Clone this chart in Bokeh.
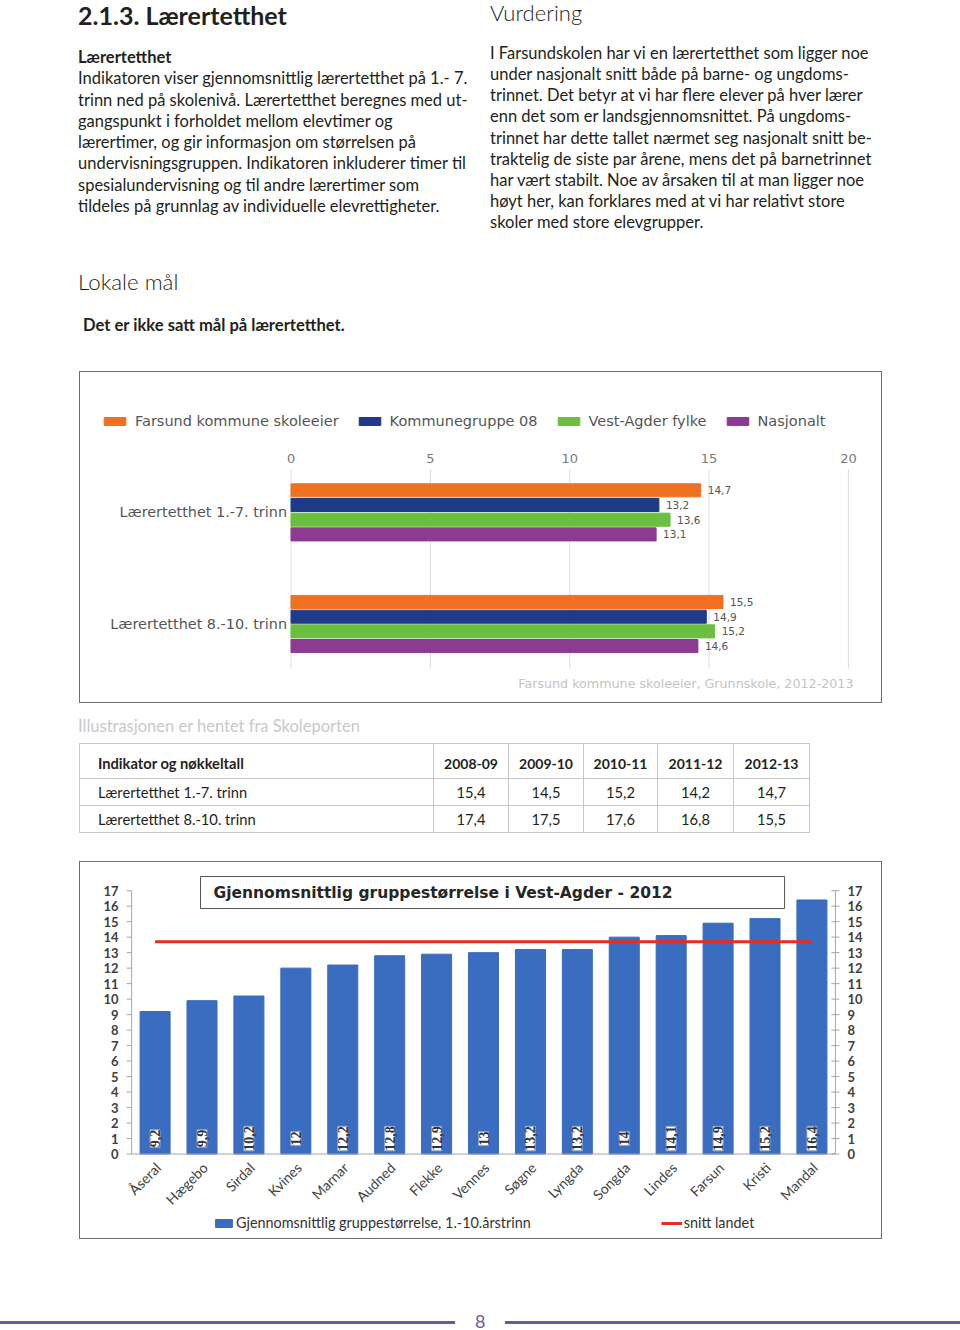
import math
from bokeh.plotting import figure
from bokeh.models import (Range1d, Legend, LegendItem, Label, LabelSet, ColumnDataSource, Div)
from bokeh.core.properties import value
from bokeh.layouts import column
from bokeh.embed import file_html
from bokeh.resources import INLINE

# ---------------- data: chart 1 (Skoleporten) ----------------
categories1 = ["Lærertetthet 1.-7. trinn", "Lærertetthet 8.-10. trinn"]
series1 = ["Farsund kommune skoleeier", "Kommunegruppe 08", "Vest-Agder fylke", "Nasjonalt"]
farsund = [14.7, 15.5]
kommunegruppe_08 = [13.2, 14.9]
vest_agder = [13.6, 15.2]
nasjonalt = [13.1, 14.6]
ticks1 = [0, 5, 10, 15, 20]
source_note1 = "Farsund kommune skoleeier, Grunnskole, 2012-2013"

# ---------------- data: table ----------------
table_header = "Indikator og nøkkeltall"
table_years = ["2008-09", "2009-10", "2010-11", "2011-12", "2012-13"]
table_rows = ["Lærertetthet 1.-7. trinn", "Lærertetthet 8.-10. trinn"]
trinn_1_7 = ["15,4", "14,5", "15,2", "14,2", "14,7"]
trinn_8_10 = ["17,4", "17,5", "17,6", "16,8", "15,5"]

# ---------------- data: chart 2 ----------------
chart2_title = "Gjennomsnittlig gruppestørrelse i Vest-Agder - 2012"
kommuner = ["Åseral", "Hægebo", "Sirdal", "Kvines", "Marnar", "Audned", "Flekke",
            "Vennes", "Søgne", "Lyngda", "Songda", "Lindes", "Farsun", "Kristi", "Mandal"]
gruppestorrelse = [9.2, 9.9, 10.2, 12, 12.2, 12.8, 12.9, 13, 13.2, 13.2, 14, 14.1, 14.9, 15.2, 16.4]
snitt_landet = 13.7
ticks2 = list(range(0, 18))
legend2 = ["Gjennomsnittlig gruppestørrelse, 1.-10.årstrinn", "snitt landet"]


def fmt(v):
    return f"{v:g}".replace(".", ",")


TXT = "#231f20"
BODY_FONT = "Lato"

# ---------------- top text block ----------------
left_lines = [
    "Indikatoren viser gjennomsnittlig lærertetthet på 1.- 7.",
    "trinn ned på skolenivå. Lærertetthet beregnes med ut-",
    "gangspunkt i forholdet mellom elevtimer og",
    "lærertimer, og gir informasjon om størrelsen på",
    "undervisningsgruppen. Indikatoren inkluderer timer til",
    "spesialundervisning og til andre lærertimer som",
    "tildeles på grunnlag av individuelle elevrettigheter.",
]
right_lines = [
    "I Farsundskolen har vi en lærertetthet som ligger noe",
    "under nasjonalt snitt både på barne- og ungdoms-",
    "trinnet. Det betyr at vi har flere elever på hver lærer",
    "enn det som er landsgjennomsnittet. På ungdoms-",
    "trinnet har dette tallet nærmet seg nasjonalt snitt be-",
    "traktelig de siste par årene, mens det på barnetrinnet",
    "har vært stabilt. Noe av årsaken til at man ligger noe",
    "høyt her, kan forklares med at vi har relativt store",
    "skoler med store elevgrupper.",
]

top_html = f"""
<div style="position:relative;width:960px;height:371px;font-family:{BODY_FONT};color:{TXT};white-space:nowrap;">
  <div style="position:absolute;left:78px;top:0px;font-size:25px;line-height:30px;font-weight:bold;">2.1.3. Lærertetthet</div>
  <div style="position:absolute;left:490px;top:0px;font-size:22px;line-height:26.4px;font-weight:300;">Vurdering</div>
  <div style="position:absolute;left:78px;top:47px;font-size:16.5px;line-height:21.3px;">
    <b>Lærertetthet</b><br>{'<br>'.join(left_lines)}
  </div>
  <div style="position:absolute;left:490px;top:43px;font-size:16.5px;line-height:21.13px;">
    {'<br>'.join(right_lines)}
  </div>
  <div style="position:absolute;left:78px;top:270px;font-size:22.3px;line-height:24px;font-weight:300;">Lokale mål</div>
  <div style="position:absolute;left:83px;top:315px;font-size:16.6px;line-height:20px;font-weight:bold;">Det er ikke satt mål på lærertetthet.</div>
</div>
"""
top_div = Div(text=top_html, width=960, height=371, margin=0)

# ---------------- chart 1 ----------------
colors1 = ["#f07022", "#1f3a88", "#6abf40", "#8c3a92"]
values1 = [farsund, kommunegruppe_08, vest_agder, nasjonalt]
# layout geometry (page pixels) -> ranges
C1_LEFT, C1_TOP, C1_W, C1_H = 80, 372, 801, 330
X0_1, PX1 = 290.0, 27.8          # page x of value 0, px per unit
Y0_1, PY1 = 511.0, 111.0         # page y of first category, px per category
step = 14.6 / PY1
bar_h = 13.0 / PY1
grid_top = (468 - Y0_1) / PY1
grid_bot = (666 - Y0_1) / PY1

p1 = figure(width=C1_W + 2, height=C1_H + 2,
            x_range=Range1d((C1_LEFT - X0_1) / PX1, (C1_LEFT + C1_W - X0_1) / PX1),
            y_range=Range1d((C1_TOP + C1_H - Y0_1) / PY1, (C1_TOP - Y0_1) / PY1),
            x_axis_location=None, y_axis_location=None, min_border=0,
            output_backend="svg", toolbar_location=None,
            margin=(0, 0, 0, 79), styles={"border": "1px solid #6f6f6f"})
p1.outline_line_color = None
p1.grid.grid_line_color = None

# grid lines and tick labels from the tick list
p1.segment(x0=ticks1, y0=grid_top, x1=ticks1, y1=grid_bot, line_color="#dcdcdc", line_width=1)
p1.text(x=ticks1, y=grid_top, text=[str(t) for t in ticks1], y_offset=-11,
        text_align="center", text_baseline="middle", text_font=value("DejaVu Sans"),
        text_font_size="13px", text_color="#7a7a7a")
p1.text(x=0, y=list(range(len(categories1))), text=categories1, x_offset=-4,
        text_align="right", text_baseline="middle", text_font=value("DejaVu Sans"),
        text_font_size="14.4px", text_color="#555555")

items = []
for j, (name, vals, col) in enumerate(zip(series1, values1, colors1)):
    ys = [i + (j - 1.5) * step for i in range(len(categories1))]
    src = ColumnDataSource(dict(y=ys, right=vals, label=[fmt(v) for v in vals]))
    r = p1.hbar(y="y", left=0, right="right", height=bar_h, fill_color=col, line_color=col, source=src)
    p1.text(x="right", y="y", text="label", source=src, x_offset=7, text_baseline="middle",
            text_font=value("DejaVu Sans"), text_font_size="10.5px", text_color="#555555")
    items.append(LegendItem(label=name, renderers=[r]))

leg1 = Legend(items=items, orientation="horizontal", location=(21, 275),
              glyph_width=27, glyph_height=10, label_standoff=7, spacing=17,
              padding=0, margin=0, border_line_color=None, background_fill_alpha=0,
              label_text_font="DejaVu Sans", label_text_font_size="14.5px",
              label_text_color="#555555", label_height=15)
p1.add_layout(leg1)

p1.add_layout(Label(x=773, y=21, x_units="screen", y_units="screen", text=source_note1,
                    text_align="right", text_baseline="middle", text_font="DejaVu Sans",
                    text_font_size="12.7px", text_color="#c4c4c4"))

# ---------------- caption + table ----------------
def row_html(label, vals):
    cells = "".join(f'<td style="border:1px solid #c8c8c8;text-align:center;">{v}</td>' for v in vals)
    return (f'<tr style="height:27px;"><td style="border:1px solid #c8c8c8;padding-left:18px;">{label}</td>'
            f'{cells}</tr>')

head_cells = "".join(f'<th style="border:1px solid #c8c8c8;text-align:center;vertical-align:bottom;padding-bottom:4px;font-size:14px;">{y}</th>'
                     for y in table_years)
mid_html = f"""
<div style="position:relative;width:960px;height:158px;font-family:{BODY_FONT};color:{TXT};white-space:nowrap;">
  <div style="position:absolute;left:78px;top:13px;font-size:16.5px;line-height:20px;color:#c9c9c9;">Illustrasjonen er hentet fra Skoleporten</div>
  <table style="position:absolute;left:79px;top:40px;border-collapse:collapse;table-layout:fixed;width:731px;font-size:14.7px;">
    <colgroup><col style="width:354px"><col style="width:75px"><col style="width:75px"><col style="width:74px"><col style="width:76px"><col style="width:76px"></colgroup>
    <tr style="height:35px;"><th style="border:1px solid #c8c8c8;text-align:left;padding-left:18px;vertical-align:bottom;padding-bottom:4px;">{table_header}</th>{head_cells}</tr>
    {row_html(table_rows[0], trinn_1_7)}
    {row_html(table_rows[1], trinn_8_10)}
  </table>
</div>
"""
mid_div = Div(text=mid_html, width=960, height=158, margin=0)

# ---------------- chart 2 ----------------
BLUE = "#3a6cc0"
RED = "#e2301f"
AX = "#a6a6a6"
C2_LEFT, C2_TOP, C2_W, C2_H = 80, 862, 801, 376
X0_2, PX2 = 154.4, 46.8          # page x of first category centre, px per category
Y0_2, PY2 = 1152.0, 15.41        # page y of value 0, px per unit

idx = list(range(len(kommuner)))
p2 = figure(width=C2_W + 2, height=C2_H + 2,
            x_range=Range1d((C2_LEFT - X0_2) / PX2, (C2_LEFT + C2_W - X0_2) / PX2),
            y_range=Range1d((Y0_2 - (C2_TOP + C2_H)) / PY2, (Y0_2 - C2_TOP) / PY2),
            x_axis_location=None, y_axis_location=None, min_border=0,
            output_backend="svg", toolbar_location=None,
            margin=(0, 0, 0, 79), styles={"border": "1px solid #6f6f6f"})
p2.outline_line_color = None
p2.grid.grid_line_color = None

src2 = ColumnDataSource(dict(i=idx, v=gruppestorrelse, lab=[fmt(v) for v in gruppestorrelse]))
bars = p2.vbar(x="i", top="v", width=0.64, fill_color=BLUE, line_color=BLUE, source=src2)
line = p2.line(x=idx, y=[snitt_landet] * len(kommuner), line_color=RED, line_width=3)

# axes (left, right, bottom) drawn on the chart's own scales
ymax = ticks2[-1]
left_x = -0.5
right_x = len(kommuner) - 0.5
p2.segment(x0=[left_x, right_x, left_x], y0=[0, 0, 0], x1=[left_x, right_x, right_x],
           y1=[ymax, ymax, 0], line_color=AX, line_width=1)
p2.segment(x0=left_x - 5 / PX2, y0=ticks2, x1=left_x, y1=ticks2, line_color=AX)
p2.segment(x0=right_x - 4 / PX2, y0=ticks2, x1=right_x + 4 / PX2, y1=ticks2, line_color=AX)
tick_labels2 = [str(t) for t in ticks2]
p2.text(x=left_x, y=ticks2, text=tick_labels2, x_offset=-13, text_align="right",
        text_baseline="middle", text_font=value("Lato"), text_font_style="bold",
        text_font_size="13px", text_color="#404040")
p2.text(x=right_x, y=ticks2, text=tick_labels2, x_offset=12, text_align="left",
        text_baseline="middle", text_font=value("Lato"), text_font_style="bold",
        text_font_size="13px", text_color="#404040")
p2.text(x=idx, y=0, text=kommuner, angle=math.pi / 4, x_offset=3, y_offset=11,
        text_align="right", text_baseline="middle", text_font=value("Lato"),
        text_font_size="14px", text_color="#404040")

p2.add_layout(LabelSet(x="i", y=1.0, text="lab", source=src2, angle=math.pi / 2,
                       text_align="center", text_baseline="middle",
                       text_font="Lato", text_font_style="bold", text_font_size="14px",
                       text_color="#333333", background_fill_color="white",
                       border_line_color="#8aa6d6"))

p2.add_layout(Label(x=120, y=348, x_units="screen", y_units="screen", text=chart2_title,
                    text_align="left", text_baseline="middle", text_font="DejaVu Sans",
                    text_font_style="bold", text_font_size="15.5px", text_color="#262626",
                    background_fill_color="white", border_line_color="#555555",
                    padding=(13, 112, 7, 7)))

leg2 = Legend(items=[LegendItem(label=legend2[0], renderers=[bars]),
                     LegendItem(label=legend2[1], renderers=[line])],
              orientation="horizontal", location=(133, 9),
              glyph_width=21, glyph_height=10, label_standoff=2, spacing=130,
              padding=0, margin=0, border_line_color=None, background_fill_alpha=0,
              label_text_font="Lato", label_text_font_size="14.4px",
              label_text_color="#333333", label_height=15)
p2.add_layout(leg2)

# ---------------- footer ----------------
foot_html = """
<div style="position:relative;width:960px;height:88px;font-family:Lato;">
  <div style="position:absolute;left:0px;top:82px;width:455px;height:3px;background:#6b5b9a;"></div>
  <div style="position:absolute;left:475px;top:71px;font-size:18px;line-height:22px;color:#6b5b9a;">8</div>
  <div style="position:absolute;left:505px;top:82px;width:455px;height:3px;background:#6b5b9a;"></div>
</div>
"""
foot_div = Div(text=foot_html, width=960, height=88, margin=0)

layout = column(top_div, p1, mid_div, p2, foot_div, spacing=0)
open("out.html", "w").write(file_html(layout, INLINE))
